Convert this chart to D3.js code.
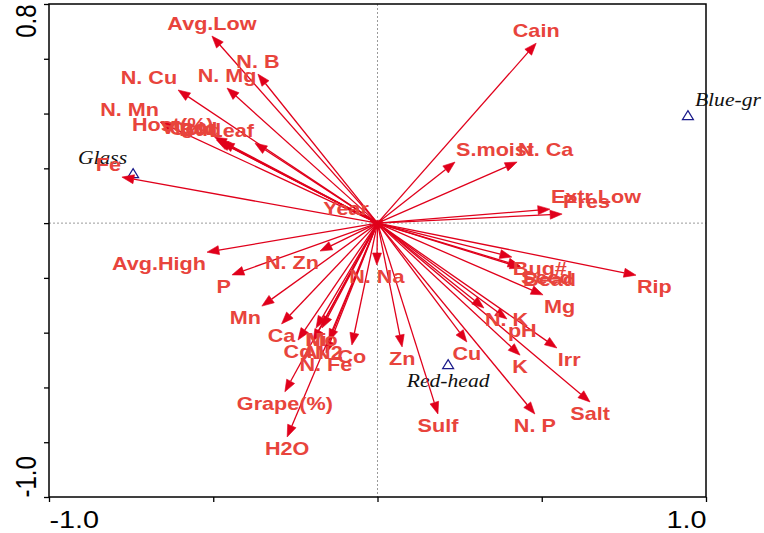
<!DOCTYPE html>
<html>
<head>
<meta charset="utf-8">
<script src="https://cdn.jsdelivr.net/npm/d3@7"></script>
<style>
  body { margin: 0; background: #fff; }
</style>
</head>
<body>
<svg id="chart" width="764" height="533"></svg>
<script>
// Environmental variables: names and their scores on ordination axes 1 and 2
const varNames = [
  "Avg.Low", "N. B", "N. Mg", "N. Cu", "N. Mn", "Host(%)", "Vigor", "Cold", "Bud", "Leaf",
  "Fe", "Year", "Avg.High", "N. Zn", "P", "Mn", "Ca", "Mo", "Ni", "Cd",
  "Al", "N2", "N. Fe", "Co", "Grape(%)", "H2O", "N. Na", "Zn", "Sulf", "Cu",
  "N. P", "K", "Salt", "Irr", "pH", "N. K", "Mg", "Bug#", "Seed", "Bead",
  "Rip", "Pres", "Extr.Low", "N. Ca", "S.moist", "Cain"
];
const varAxis1 = [
  -0.504, -0.364, -0.458, -0.607, -0.662, -0.496, -0.490, -0.484, -0.473, -0.373,
  -0.778, -0.023, -0.519, -0.175, -0.443, -0.352, -0.292, -0.169, -0.187, -0.242,
  -0.196, -0.148, -0.157, -0.078, -0.282, -0.275, -0.002, 0.075, 0.184, 0.272,
  0.479, 0.434, 0.647, 0.546, 0.394, 0.324, 0.504, 0.409, 0.434, 0.440,
  0.787, 0.562, 0.525, 0.425, 0.236, 0.483
];
const varAxis2 = [
  0.683, 0.544, 0.493, 0.486, 0.369, 0.314, 0.303, 0.300, 0.296, 0.292,
  0.168, 0.008, -0.106, -0.102, -0.189, -0.303, -0.368, -0.383, -0.383, -0.427,
  -0.431, -0.431, -0.474, -0.445, -0.616, -0.781, -0.153, -0.452, -0.697, -0.434,
  -0.697, -0.482, -0.653, -0.456, -0.350, -0.310, -0.262, -0.124, -0.157, -0.164,
  -0.190, 0.033, 0.051, 0.223, 0.223, 0.657
];

// Sample (variety) scores
const sampleNames = ["Glass", "Blue-gr", "Red-head"];
const sampleAxis1 = [-0.744, 0.945, 0.215];
const sampleAxis2 = [0.179, 0.391, -0.518];

// Axis ticks
const xTickValues = [-1.0, -0.5, 0.0, 0.5, 1.0];
const xTickLabels = ["-1.0", "", "", "", "1.0"];
const yTickValues = [0.8, 0.6, 0.4, 0.2, 0.0, -0.2, -0.4, -0.6, -0.8, -1.0];
const yTickLabels = ["0.8", "", "", "", "", "", "", "", "", "-1.0"];

const svg = d3.select("#chart");
const plotLeft = 49, plotRight = 706, plotTop = 4, plotBottom = 497;
const stretch = 1.2;

const x = d3.scaleLinear().domain([-1, 1]).range([plotLeft, plotRight]);
const y = d3.scaleLinear().domain([-1, 0.8]).range([plotBottom, plotTop]);

const arrowColor = "#e0001b";
const labelColor = "#e8443c";
const sampleColor = "#1a1a8a";

// Zero reference lines
svg.append("line")
  .attr("x1", x(0)).attr("x2", x(0)).attr("y1", plotTop).attr("y2", plotBottom)
  .attr("stroke", "#9a9a9a").attr("stroke-width", 1).attr("stroke-dasharray", "2,2");
svg.append("line")
  .attr("x1", plotLeft).attr("x2", plotRight).attr("y1", y(0)).attr("y2", y(0))
  .attr("stroke", "#9a9a9a").attr("stroke-width", 1).attr("stroke-dasharray", "2,2");

// Frame
svg.append("rect")
  .attr("x", plotLeft).attr("y", plotTop)
  .attr("width", plotRight - plotLeft).attr("height", plotBottom - plotTop)
  .attr("fill", "none").attr("stroke", "#000").attr("stroke-width", 1.5);

// Bottom axis
const gx = svg.append("g").attr("transform", `translate(0,${plotBottom})`)
  .call(d3.axisBottom(x).tickValues(xTickValues).tickSize(5).tickSizeOuter(0)
    .tickFormat((d, i) => xTickLabels[i]));
gx.select(".domain").remove();
gx.selectAll(".tick line").attr("stroke", "#000").attr("stroke-width", 1.3);
gx.selectAll(".tick text")
  .attr("y", 0).attr("dy", 0)
  .attr("transform", `translate(0,31) scale(${stretch},1)`)
  .attr("font-family", "Arial, 'Liberation Sans', sans-serif")
  .attr("font-size", 24).attr("fill", "#000")
  .attr("text-anchor", (d, i) => i === 0 ? "start" : (i === xTickValues.length - 1 ? "end" : "middle"));

// Left axis
const gy = svg.append("g").attr("transform", `translate(${plotLeft},0)`)
  .call(d3.axisLeft(y).tickValues(yTickValues).tickSize(5).tickSizeOuter(0)
    .tickFormat((d, i) => yTickLabels[i]));
gy.select(".domain").remove();
gy.selectAll(".tick line").attr("stroke", "#000").attr("stroke-width", 1.3);
gy.selectAll(".tick text")
  .attr("x", 0).attr("y", 0).attr("dy", 0)
  .attr("transform", `translate(-13,0) scale(${stretch},1) rotate(-90)`)
  .attr("font-family", "Arial, 'Liberation Sans', sans-serif")
  .attr("font-size", 24).attr("fill", "#000")
  .attr("text-anchor", (d, i) => i === 0 ? "end" : "start");

// Samples: open triangles with italic names
const samples = sampleNames.map((n, i) => ({ name: n, px: x(sampleAxis1[i]), py: y(sampleAxis2[i]), a1: sampleAxis1[i] }));
const gs = svg.append("g");
samples.forEach(s => {
  const h = 9, w = 5.5;
  gs.append("path")
    .attr("d", `M${s.px},${s.py - h * 0.6} L${s.px + w},${s.py + h * 0.4} L${s.px - w},${s.py + h * 0.4} Z`)
    .attr("fill", "none").attr("stroke", sampleColor).attr("stroke-width", 1.2);
  let tx, ty, anchor;
  if (s.a1 < -0.5) { tx = s.px - 6; ty = s.py - 10; anchor = "end"; }
  else if (s.a1 > 0.5) { tx = s.px + 7; ty = s.py - 10; anchor = "start"; }
  else { tx = s.px; ty = s.py + 22; anchor = "middle"; }
  gs.append("text")
    .attr("transform", `translate(${tx},${ty}) scale(${stretch},1)`)
    .attr("text-anchor", anchor)
    .attr("font-family", "'Times New Roman', 'Liberation Serif', serif")
    .attr("font-style", "italic").attr("font-size", 18).attr("fill", "#111")
    .text(s.name);
});

// Variable arrows
const ox = x(0), oy = y(0);
const vars = varNames.map((n, i) => ({ name: n, px: x(varAxis1[i]), py: y(varAxis2[i]) }));
const ga = svg.append("g");
const headLen = 12, headHalf = 4.5;
vars.forEach(v => {
  const dx = v.px - ox, dy = v.py - oy;
  const len = Math.hypot(dx, dy) || 1;
  const ux = dx / len, uy = dy / len;
  const bx = v.px - ux * headLen, by = v.py - uy * headLen;
  ga.append("line")
    .attr("x1", ox).attr("y1", oy)
    .attr("x2", len > headLen ? bx : v.px).attr("y2", len > headLen ? by : v.py)
    .attr("stroke", arrowColor).attr("stroke-width", 1.3);
  ga.append("path")
    .attr("d", `M${v.px},${v.py} L${bx - uy * headHalf},${by + ux * headHalf} L${bx + uy * headHalf},${by - ux * headHalf} Z`)
    .attr("fill", arrowColor).attr("stroke", arrowColor).attr("stroke-width", 0.6);
  v.ux = ux; v.uy = uy;
});

// Variable labels, placed just beyond each arrow tip
const gl = svg.append("g");
vars.forEach(v => {
  let anchor = "middle", tx = v.px;
  if (Math.abs(v.ux) > 0.78) {
    anchor = v.ux > 0 ? "start" : "end";
    tx = v.px + (v.ux > 0 ? 1 : -1);
  }
  const ty = v.py + (v.uy >= 0 ? 12 : -12);
  gl.append("text")
    .attr("transform", `translate(${tx},${ty}) scale(${stretch},1)`)
    .attr("text-anchor", anchor)
    .attr("dy", "0.35em")
    .attr("font-family", "Arial, 'Liberation Sans', sans-serif")
    .attr("font-weight", "bold").attr("font-size", 18)
    .attr("fill", labelColor)
    .text(v.name);
});
</script>
</body>
</html>
